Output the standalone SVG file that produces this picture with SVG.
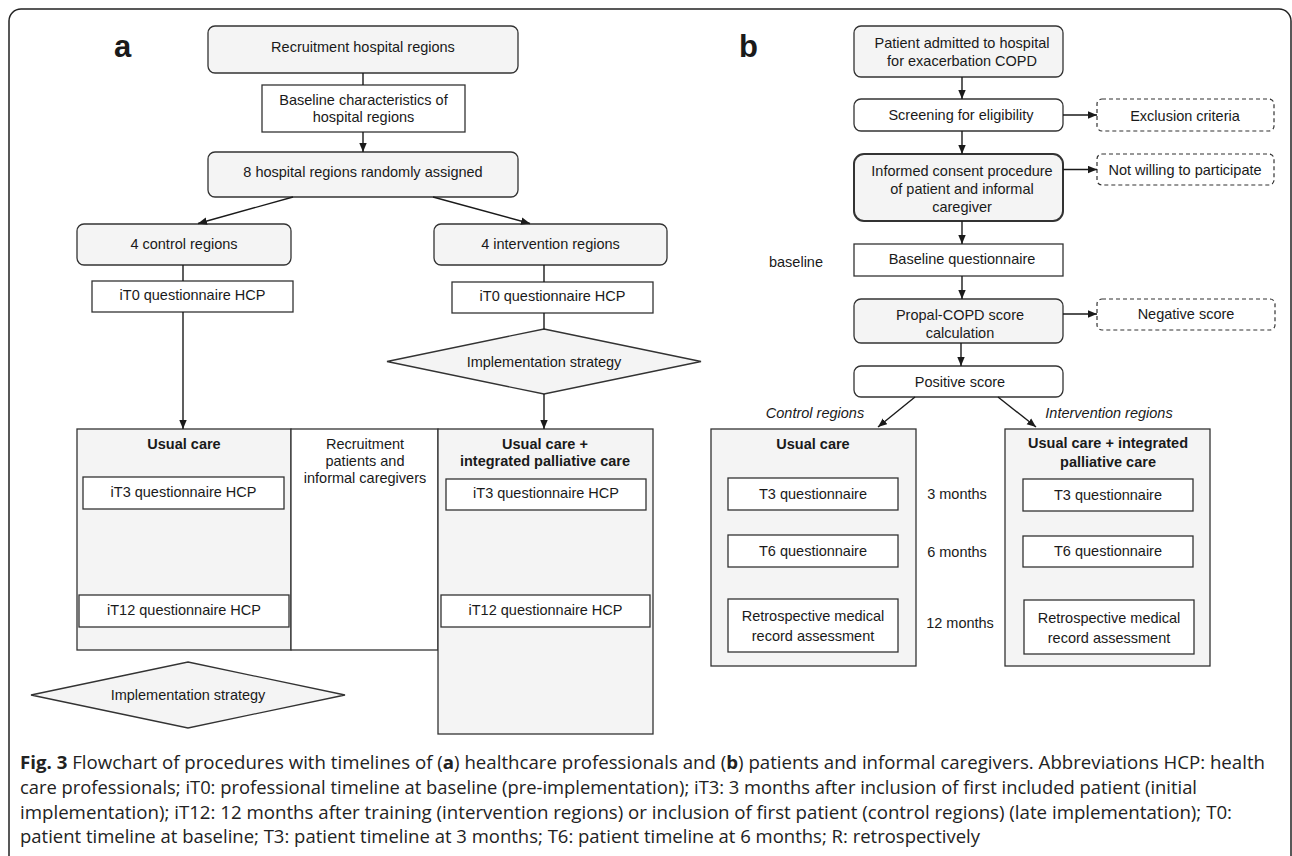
<svg xmlns="http://www.w3.org/2000/svg" width="1292" height="856" viewBox="0 0 1292 856">
<defs>
<marker id="ah" markerWidth="10" markerHeight="9" refX="9" refY="4" orient="auto" markerUnits="userSpaceOnUse">
<path d="M0,0.3 L9,4 L0,7.7 z" fill="#1a1a1a"/>
</marker>
</defs>
<style>
text{font-family:"Liberation Sans",Arial,sans-serif;font-size:14.5px;fill:#1a1a1a;text-anchor:middle}
.b{font-weight:bold}
.it{font-style:italic}
.lab{font-weight:bold;font-size:31px;text-anchor:start}
.g{fill:#f4f4f4;stroke:#333;stroke-width:1.3}
.w{fill:#fff;stroke:#333;stroke-width:1.3}
.d{fill:#fff;stroke:#333;stroke-width:1.2;stroke-dasharray:4 3}
.c line{stroke:#1a1a1a;stroke-width:1.4}
.cap{font-family:"Open Sans","Noto Sans",sans-serif;font-size:18.5px;text-anchor:start;fill:#222}
</style>
<rect width="1292" height="856" fill="#fff"/>
<path d="M9,870 V21 A12,12 0 0 1 21,9 H1279 A12,12 0 0 1 1291,21 V870" fill="none" stroke="#222" stroke-width="1.5"/>

<text class="lab" x="114" y="57">a</text>
<text class="lab" x="739" y="57">b</text>

<!-- Panel a -->
<g id="a_recruit"><rect class="g" x="208" y="26" width="310" height="47" rx="7"/><text x="363" y="52">Recruitment hospital regions</text></g>
<g id="a_baseline"><rect class="w" x="262" y="85" width="203" height="47"/><text x="363.5" y="105">Baseline characteristics of</text><text x="363.5" y="122">hospital regions</text></g>
<g id="a_random"><rect class="g" x="208" y="152" width="310" height="45" rx="7"/><text x="363" y="177">8 hospital regions randomly assigned</text></g>
<g id="a_control"><rect class="g" x="77" y="224" width="214" height="41" rx="7"/><text x="184" y="249">4 control regions</text></g>
<g id="a_interv"><rect class="g" x="434" y="224" width="233" height="41" rx="7"/><text x="550.5" y="249">4 intervention regions</text></g>
<g id="a_it0c"><rect class="w" x="92" y="281" width="201" height="31"/><text x="192.5" y="300">iT0 questionnaire HCP</text></g>
<g id="a_it0i"><rect class="w" x="452" y="282" width="201" height="31"/><text x="552.5" y="301">iT0 questionnaire HCP</text></g>
<g id="a_impl1"><polygon class="g" points="544,329 701,361.5 544,394 387,361.5"/><text x="544" y="367">Implementation strategy</text></g>
<g id="a_usual"><rect class="g" x="77" y="429" width="214" height="221"/><text class="b" x="184" y="449">Usual care</text></g>
<g id="a_middle"><rect class="w" x="291" y="429" width="147" height="221"/><text x="365" y="449">Recruitment</text><text x="365" y="466">patients and</text><text x="365" y="483">informal caregivers</text></g>
<g id="a_usualpc"><rect class="g" x="438" y="429" width="215" height="305"/><text class="b" x="545" y="449">Usual care +</text><text class="b" x="545" y="466">integrated palliative care</text></g>
<g id="a_it3c"><rect class="w" x="83" y="477" width="201" height="32"/><text x="183.5" y="497">iT3 questionnaire HCP</text></g>
<g id="a_it3i"><rect class="w" x="446" y="479" width="200" height="31"/><text x="546" y="498">iT3 questionnaire HCP</text></g>
<g id="a_it12c"><rect class="w" x="79" y="595" width="210" height="32"/><text x="184" y="615">iT12 questionnaire HCP</text></g>
<g id="a_it12i"><rect class="w" x="441" y="595" width="209" height="32"/><text x="545.5" y="615">iT12 questionnaire HCP</text></g>
<g id="a_impl2"><polygon class="g" points="188,662 345,695 188,728 31,695"/><text x="188" y="700">Implementation strategy</text></g>

<!-- Panel b -->
<g id="b_admit"><rect class="g" x="854" y="26" width="209" height="51" rx="7"/><text x="962" y="48">Patient admitted to hospital</text><text x="962" y="66">for exacerbation COPD</text></g>
<g id="b_screen"><rect class="w" x="854" y="99" width="209" height="32" rx="7"/><text x="961" y="120">Screening for eligibility</text></g>
<g id="b_excl"><rect class="d" x="1097" y="99" width="177" height="32" rx="5"/><text x="1185" y="121">Exclusion criteria</text></g>
<g id="b_consent"><rect class="g" x="854" y="154" width="209" height="67" rx="10" style="stroke-width:2"/><text x="962" y="176">Informed consent procedure</text><text x="962" y="194">of patient and informal</text><text x="962" y="212">caregiver</text></g>
<g id="b_notwill"><rect class="d" x="1097" y="154" width="177" height="31" rx="5"/><text x="1185" y="175">Not willing to participate</text></g>
<g id="b_baseq"><rect class="w" x="854" y="244" width="209" height="32"/><text x="962" y="264">Baseline questionnaire</text></g>
<text x="796" y="267">baseline</text>
<g id="b_propal"><rect class="g" x="854" y="299" width="209" height="44" rx="7"/><text x="960" y="320">Propal-COPD score</text><text x="960" y="338">calculation</text></g>
<g id="b_neg"><rect class="d" x="1097" y="299" width="178" height="31" rx="5"/><text x="1186" y="319">Negative score</text></g>
<g id="b_pos"><rect class="w" x="854" y="366" width="209" height="31" rx="7"/><text x="960" y="387">Positive score</text></g>
<text class="it" x="815" y="418">Control regions</text>
<text class="it" x="1109" y="418">Intervention regions</text>
<g id="b_usual"><rect class="g" x="711" y="429" width="205" height="237"/><text class="b" x="813" y="449">Usual care</text></g>
<g id="b_usualpc"><rect class="g" x="1005" y="429" width="205" height="237"/><text class="b" x="1108" y="448">Usual care + integrated</text><text class="b" x="1108" y="467">palliative care</text></g>
<g id="b_t3c"><rect class="w" x="728" y="478" width="170" height="32"/><text x="813" y="499">T3 questionnaire</text></g>
<g id="b_t6c"><rect class="w" x="728" y="535" width="170" height="32"/><text x="813" y="556">T6 questionnaire</text></g>
<g id="b_retc"><rect class="w" x="728" y="599" width="170" height="53"/><text x="813" y="621">Retrospective medical</text><text x="813" y="641">record assessment</text></g>
<g id="b_t3i"><rect class="w" x="1023" y="479" width="170" height="32"/><text x="1108" y="500">T3 questionnaire</text></g>
<g id="b_t6i"><rect class="w" x="1023" y="536" width="170" height="31"/><text x="1108" y="556">T6 questionnaire</text></g>
<g id="b_reti"><rect class="w" x="1024" y="600" width="170" height="54"/><text x="1109" y="623">Retrospective medical</text><text x="1109" y="643">record assessment</text></g>
<text x="957" y="499">3 months</text>
<text x="957" y="557">6 months</text>
<text x="960" y="628">12 months</text>

<!-- Connectors -->
<g id="connectors" class="c">
<line x1="363" y1="73" x2="363" y2="85"/>
<line x1="363" y1="132" x2="363" y2="152" marker-end="url(#ah)"/>
<line x1="293" y1="197" x2="198" y2="223.5" marker-end="url(#ah)"/>
<line x1="433" y1="197" x2="530" y2="223.5" marker-end="url(#ah)"/>
<line x1="183" y1="265" x2="183" y2="281"/>
<line x1="183" y1="312" x2="183" y2="429" marker-end="url(#ah)"/>
<line x1="544" y1="265" x2="544" y2="282"/>
<line x1="544" y1="313" x2="544" y2="329"/>
<line x1="544" y1="394" x2="544" y2="429" marker-end="url(#ah)"/>
<line x1="962" y1="77" x2="962" y2="99" marker-end="url(#ah)"/>
<line x1="1063" y1="115" x2="1097" y2="115" marker-end="url(#ah)"/>
<line x1="962" y1="131" x2="962" y2="154" marker-end="url(#ah)"/>
<line x1="1063" y1="169.5" x2="1097" y2="169.5" marker-end="url(#ah)"/>
<line x1="962" y1="221" x2="962" y2="244" marker-end="url(#ah)"/>
<line x1="962" y1="276" x2="962" y2="299" marker-end="url(#ah)"/>
<line x1="1063" y1="314" x2="1097" y2="314" marker-end="url(#ah)"/>
<line x1="961" y1="343" x2="961" y2="366" marker-end="url(#ah)"/>
<line x1="915" y1="397" x2="878" y2="427" marker-end="url(#ah)"/>
<line x1="998" y1="397" x2="1036" y2="427" marker-end="url(#ah)"/>
</g>

<!-- Caption -->
<text class="cap" x="20" y="769" textLength="1245" lengthAdjust="spacingAndGlyphs"><tspan font-weight="bold">Fig. 3</tspan> Flowchart of procedures with timelines of (<tspan font-weight="bold">a</tspan>) healthcare professionals and (<tspan font-weight="bold">b</tspan>) patients and informal caregivers. Abbreviations HCP: health</text>
<text class="cap" x="20" y="794" textLength="1177" lengthAdjust="spacingAndGlyphs">care professionals; iT0: professional timeline at baseline (pre-implementation); iT3: 3 months after inclusion of first included patient (initial</text>
<text class="cap" x="20" y="819" textLength="1212" lengthAdjust="spacingAndGlyphs">implementation); iT12: 12 months after training (intervention regions) or inclusion of first patient (control regions) (late implementation); T0:</text>
<text class="cap" x="20" y="843" textLength="960" lengthAdjust="spacingAndGlyphs">patient timeline at baseline; T3: patient timeline at 3 months; T6: patient timeline at 6 months; R: retrospectively</text>
</svg>
